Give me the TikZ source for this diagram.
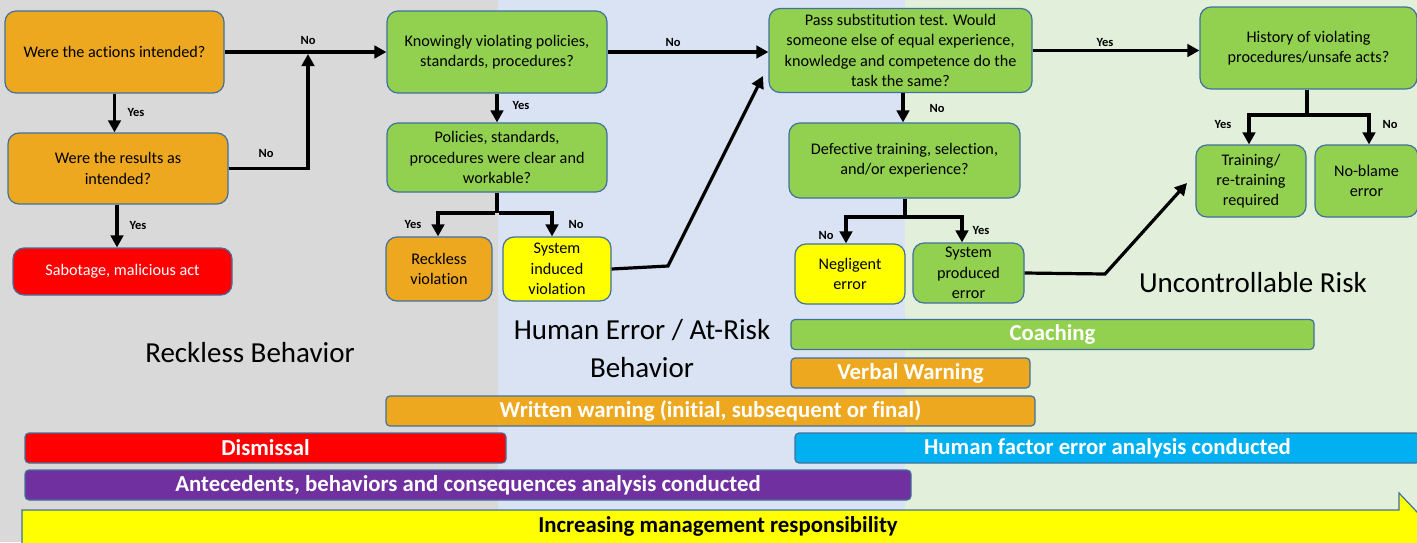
\documentclass[tikz,border=0pt]{standalone}
\usepackage{fontspec}
\setmainfont{Carlito}[Ligatures=CommonOff]
\usetikzlibrary{arrows.meta}

\definecolor{bggray}{HTML}{D9D9D9}
\definecolor{bgblue}{HTML}{DAE3F3}
\definecolor{bggreen}{HTML}{E2EFDA}
\definecolor{bord}{HTML}{41719C}
\definecolor{orng}{HTML}{EDA81F}
\definecolor{grn}{HTML}{92D050}
\definecolor{ylw}{HTML}{FFFF00}
\definecolor{rd}{HTML}{FF0000}
\definecolor{cyn}{HTML}{00B0F0}
\definecolor{prp}{HTML}{7030A0}

\tikzset{
  fbox/.style={draw=bord, line width=1.2pt, rounded corners=11pt, align=center,
    inner sep=0pt, font=\fontsize{16.2}{20.3}\selectfont},
  bar/.style={draw=bord, line width=1.2pt, rounded corners=4pt, inner sep=0pt,
    text=white, font=\bfseries\fontsize{22.8}{26}\selectfont, minimum height=30pt},
  arr/.style={line width=3.2pt, -{Triangle[length=12pt,width=12.5pt]}},
  lnk/.style={line width=3.2pt},
  lab/.style={font=\bfseries\fontsize{12.5}{14}\selectfont, inner sep=0pt},
  zone/.style={font=\fontsize{29}{38}\selectfont, align=center, inner sep=0pt},
}

\begin{document}
\begin{tikzpicture}[x=1pt, y=-1pt]
\useasboundingbox (0,0) rectangle (1417,542);
\clip (0,0) rectangle (1417,542);

% background zones
\fill[bggray]  (0,0) rectangle (498,542);
\fill[bgblue]  (498,0) rectangle (905,542);
\fill[bggreen] (905,0) rectangle (1417,542);

% zone titles
\node[zone] (zr) at (250,353) {Reckless Behavior};
\node[zone] (zh) at (642,349) {Human Error / At-Risk\\Behavior};
\node[zone] (zu) at (1253,283) {Uncontrollable Risk};

% decision column 1
\node[fbox, fill=orng, minimum width=219pt, minimum height=82pt] (A) at (114.5,52) {Were the actions intended?};
\node[fbox, fill=orng, minimum width=220pt, minimum height=71pt] (B) at (118,168.5) {Were the results as\\intended?};
\node[fbox, fill=rd, text=white, minimum width=219pt, minimum height=47pt] (C) at (122.5,271.5) {Sabotage, malicious act};

% decision column 2
\node[fbox, fill=grn, minimum width=220pt, minimum height=82pt] (D) at (497,52) {Knowingly violating policies,\\standards, procedures?};
\node[fbox, fill=grn, minimum width=220pt, minimum height=69pt] (E) at (497,157.5) {Policies, standards,\\procedures were clear and\\workable?};
\node[fbox, fill=orng, minimum width=106pt, minimum height=64pt] (G) at (439,269) {Reckless\\violation};
\node[fbox, fill=ylw, minimum width=108pt, minimum height=64pt] (H) at (557,269) {System\\induced\\violation};

% decision column 3
\node[fbox, fill=grn, minimum width=263pt, minimum height=84pt] (F) at (900.5,50.5) {Pass substitution test. Would\\someone else of equal experience,\\knowledge and competence do the\\task the same?};
\node[fbox, fill=grn, minimum width=231pt, minimum height=75pt] (J) at (904.5,160.5) {Defective training, selection,\\and/or experience?};
\node[fbox, fill=ylw, minimum width=110pt, minimum height=60pt] (K) at (850,274) {Negligent\\error};
\node[fbox, fill=grn, minimum width=111pt, minimum height=60pt] (L) at (968.5,273) {System\\produced\\error};

% decision column 4
\node[fbox, fill=grn, minimum width=217pt, minimum height=82pt] (I) at (1308.5,48) {History of violating\\procedures/unsafe acts?};
\node[fbox, fill=grn, minimum width=110pt, minimum height=72pt] (M) at (1251,181) {Training/\\re-training\\required};
\node[fbox, fill=grn, minimum width=103pt, minimum height=72pt] (N) at (1366.5,181) {No-blame\\error};

% helper points
\coordinate (j1) at (308,54);
\coordinate (e1) at (497,213);
\coordinate (h1) at (668,266);
\coordinate (f1) at (763,76);
\coordinate (d1) at (905,217);
\coordinate (l1) at (1105,274);
\coordinate (m1) at (1187,183);
\coordinate (i1) at (1307,115);

% connectors
\draw[arr] (A.south) -- (A.south |- B.north);
\draw[arr] (A.east) -- (A.east -| D.west);
\draw[arr] (B.east) -| (j1);
\draw[arr] ([xshift=-1pt]B.south) -- ([xshift=-1pt]B.south |- C.north);

\draw[arr] (D.south) -- (D.south |- E.north);
\draw[arr] (D.east) -- (D.east -| F.west);
\draw[lnk] (E.south) -- (e1);
\draw[arr] ([xshift=-1.6pt]e1) -| ([xshift=-1pt]G.north);
\draw[arr] ([xshift=1.6pt]e1) -| ([xshift=-5pt]H.north);
\draw[arr] (H.east) -- (h1) -- (f1);

\draw[arr] (F.east) -- (F.east -| I.west);
\draw[arr] ([xshift=2.5pt]F.south) -- ([xshift=2.5pt]F.south |- J.north);
\draw[lnk] ([xshift=0.5pt]J.south) -- (d1);
\draw[arr] ([xshift=1.6pt]d1) -| ([xshift=-4pt]K.north);
\draw[arr] ([xshift=-1.6pt]d1) -| ([xshift=-6.5pt]L.north);
\draw[arr] (L.east) -- (l1) -- (m1);

\draw[lnk] ([xshift=-1.5pt]I.south) -- (i1);
\draw[arr] ([xshift=1.6pt]i1) -| ([xshift=-2pt]M.north);
\draw[arr] ([xshift=-1.6pt]i1) -| ([xshift=2.5pt]N.north);

% branch labels
\node[lab] at (308,40) {No};
\node[lab] at (266,153) {No};
\node[lab] at (136,112) {Yes};
\node[lab] at (138,225) {Yes};
\node[lab] at (521,105) {Yes};
\node[lab] at (673,42) {No};
\node[lab] at (413,224) {Yes};
\node[lab] at (576,224) {No};
\node[lab] at (1105,42) {Yes};
\node[lab] at (937,108) {No};
\node[lab] at (826,235) {No};
\node[lab] at (981,230) {Yes};
\node[lab] at (1223,124) {Yes};
\node[lab] at (1390,124) {No};

% response bars
\node[bar, fill=grn,  minimum width=523pt] (coach) at (1052.5,334.5) {Coaching};
\node[bar, fill=orng, minimum width=239pt] (verbal) at (910.5,373) {Verbal Warning};
\node[bar, fill=orng, minimum width=649pt] (written) at (710.5,411) {Written warning (initial, subsequent or final)};
\node[bar, fill=rd,   minimum width=481pt] (dismiss) at (265.5,448) {Dismissal};
\node[bar, fill=cyn,  minimum width=625pt] (hfe) at (1107.5,448) {Human factor error analysis conducted};
\node[bar, fill=prp,  minimum width=886pt] (abc) at (468,485) {Antecedents, behaviors and consequences analysis conducted};

% management responsibility arrow
\draw[draw=bord, line width=1.2pt, fill=ylw]
  (22,510) -- (1399,510) -- (1399,493) -- (1436,532) -- (1399,571) -- (1399,554) -- (22,554) -- cycle;
\node[font=\bfseries\fontsize{22.8}{26}\selectfont, inner sep=0pt] (mgmt) at (718,526) {Increasing management responsibility};
\end{tikzpicture}
\end{document}
